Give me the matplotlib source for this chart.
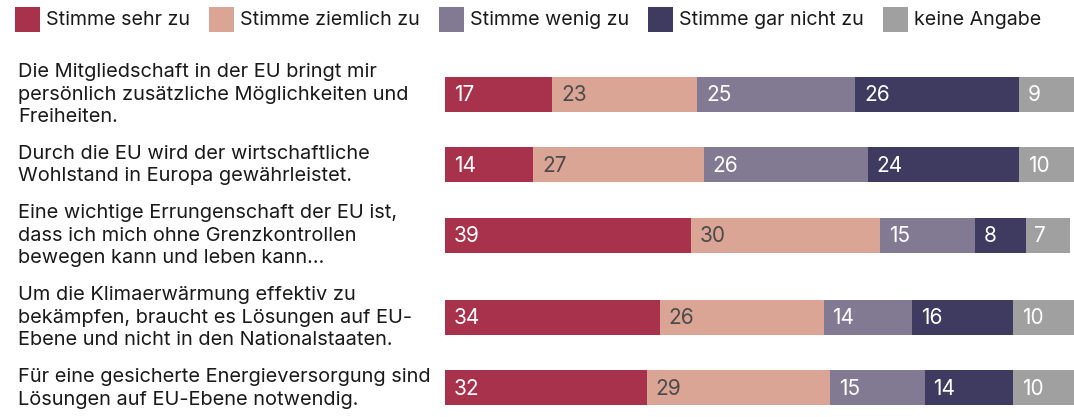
import matplotlib
matplotlib.use("Agg")
import matplotlib.pyplot as plt
from matplotlib.patches import Rectangle
import numpy as np

plt.rcParams['font.family'] = ['Inter', 'DejaVu Sans']

series = ["Stimme sehr zu", "Stimme ziemlich zu", "Stimme wenig zu",
          "Stimme gar nicht zu", "keine Angabe"]
colors = ["#A8324C", "#DBA596", "#827A93", "#3E3A60", "#A0A0A0"]
text_colors = ["white", "#4A4A4A", "white", "white", "white"]

questions = [
    "Die Mitgliedschaft in der EU bringt mir\npersönlich zusätzliche Möglichkeiten und\nFreiheiten.",
    "Durch die EU wird der wirtschaftliche\nWohlstand in Europa gewährleistet.",
    "Eine wichtige Errungenschaft der EU ist,\ndass ich mich ohne Grenzkontrollen\nbewegen kann und leben kann…",
    "Um die Klimaerwärmung effektiv zu\nbekämpfen, braucht es Lösungen auf EU-\nEbene und nicht in den Nationalstaaten.",
    "Für eine gesicherte Energieversorgung sind\nLösungen auf EU-Ebene notwendig.",
]
sehr_zu = [17, 14, 39, 34, 32]
ziemlich_zu = [23, 27, 30, 26, 29]
wenig_zu = [25, 26, 15, 14, 15]
gar_nicht_zu = [26, 24, 8, 16, 14]
keine_angabe = [9, 10, 7, 10, 10]

values = np.array([sehr_zu, ziemlich_zu, wenig_zu, gar_nicht_zu, keine_angabe])

W, H = 1074, 417
fig = plt.figure(figsize=(W / 100, H / 100), dpi=100)

# layout (pixels)
line_h = 23.4
gap = 12
first_center = 94
nlines = [q.count("\n") + 1 for q in questions]
centers = [first_center]
for i in range(1, len(questions)):
    centers.append(centers[-1] + (nlines[i - 1] + nlines[i]) / 2 * line_h + gap)

bar_left_px = 445
px_per_unit = 6.31
ax = fig.add_axes([bar_left_px / W, 0, px_per_unit * 100 / W, 1])
ax.set_xlim(0, 100)
ax.set_ylim(H, 0)
ax.axis("off")

left = np.zeros(len(questions))
for k in range(len(series)):
    ax.barh(centers, values[k], left=left, height=35, color=colors[k],
            edgecolor="none", clip_on=False)
    for i in range(len(questions)):
        ax.text(left[i] + 1.4, centers[i] + 1, str(values[k][i]),
                color=text_colors[k], fontsize=15, va="center", ha="left")
    left += values[k]

for i, q in enumerate(questions):
    fig.text(18 / W, 1 - (centers[i] + 0.5) / H, q, fontsize=14.4, va="center",
             ha="left", color="#1a1a1a", linespacing=1.34)

# legend
fig.canvas.draw()
renderer = fig.canvas.get_renderer()
x = 15
sq = 25
ly = 19.5
for k, name in enumerate(series):
    fig.patches.append(Rectangle((x / W, 1 - (ly + sq / 2) / H), sq / W, sq / H,
                                 transform=fig.transFigure, facecolor=colors[k],
                                 edgecolor="none"))
    t = fig.text((x + 31) / W, 1 - (ly + 0.5) / H, name, fontsize=14.15,
                 va="center", ha="left", color="#1a1a1a")
    bb = t.get_window_extent(renderer)
    x = bb.x1 + 19

fig.savefig("out.png", dpi=100)
